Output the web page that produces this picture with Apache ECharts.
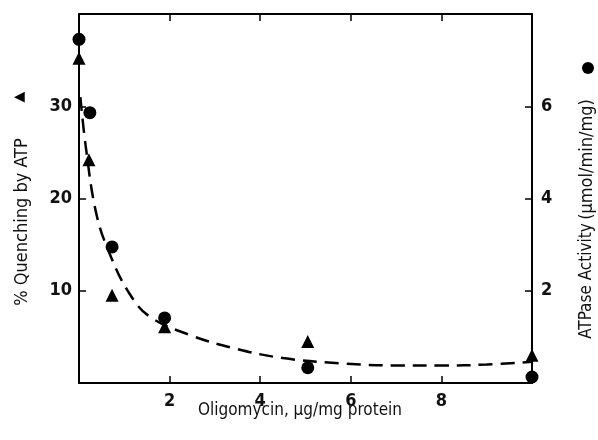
<!DOCTYPE html>
<html>
<head>
<meta charset="utf-8">
<script src="https://cdn.jsdelivr.net/npm/echarts@6/dist/echarts.min.js"></script>
<style>
html,body{margin:0;padding:0;background:#fff;}
#c{width:598px;height:440px;}
</style>
</head>
<body>
<div id="c"></div>
<script>
// Data
var xTicks = [0, 2, 4, 6, 8, 10];
var leftTicks = [0, 10, 20, 30, 40];
var rightTicks = [0, 2, 4, 6, 8];

var triX = [0, 0.22, 0.73, 1.89, 5.05, 10];
var quenching = [35.2, 24.2, 9.5, 6.1, 4.5, 3.0];

var circX = [0, 0.24, 0.73, 1.89, 5.05, 10];
var atpase = [7.45, 5.86, 2.95, 1.41, 0.33, 0.13];

var curveX = [0.03, 0.15, 0.38, 0.67, 1.1, 1.56, 2.45, 3.4, 4.5, 5.9, 7, 8, 9, 10];
var curveY = [31, 25.6, 18.4, 14.1, 9.8, 7.2, 5.2, 3.8, 2.7, 2.1, 1.9, 1.9, 2.0, 2.3];

var FONT = "'Liberation Sans Narrow','DejaVu Sans Condensed','Roboto Condensed',sans-serif";

function zip(a, b) { return a.map(function (v, i) { return [v, b[i]]; }); }

var chart = echarts.init(document.getElementById('c'), null, {renderer: 'canvas'});

var axisLine = {show: true, onZero: false, lineStyle: {color: '#000', width: 2}};
var axisTick = {show: true, inside: true, length: 7, lineStyle: {color: '#000', width: 1.5}};

chart.setOption({
  animation: false,
  backgroundColor: '#fff',
  grid: {left: 79, right: 66, top: 14, bottom: 57},
  xAxis: [{
    type: 'value', min: xTicks[0], max: xTicks[xTicks.length - 1], interval: 2,
    position: 'bottom',
    axisLine: axisLine, axisTick: axisTick, splitLine: {show: false},
    axisLabel: {
      margin: 9, color: '#111', fontSize: 18, fontWeight: 'bold', fontFamily: FONT,
      formatter: function (v) { return (v === 0 || v === 10) ? '' : String(v); }
    }
  }, {
    type: 'value', min: xTicks[0], max: xTicks[xTicks.length - 1], interval: 2,
    position: 'top',
    axisLine: axisLine, axisTick: axisTick, splitLine: {show: false},
    axisLabel: {show: false}
  }],
  yAxis: [{
    type: 'value', min: leftTicks[0], max: leftTicks[leftTicks.length - 1], interval: 10,
    position: 'left',
    axisLine: axisLine, axisTick: axisTick, splitLine: {show: false},
    axisLabel: {
      margin: 7, color: '#111', fontSize: 18, fontWeight: 'bold', fontFamily: FONT,
      formatter: function (v) { return (v === 0 || v === 40) ? '' : String(v); }
    }
  }, {
    type: 'value', min: rightTicks[0], max: rightTicks[rightTicks.length - 1], interval: 2,
    position: 'right',
    axisLine: axisLine, axisTick: axisTick, splitLine: {show: false},
    axisLabel: {
      margin: 9, color: '#111', fontSize: 18, fontWeight: 'bold', fontFamily: FONT,
      formatter: function (v) { return (v === 0 || v === 8) ? '' : String(v); }
    }
  }],
  series: [{
    type: 'line', xAxisIndex: 0, yAxisIndex: 0,
    data: zip(curveX, curveY), smooth: 0.4, showSymbol: false, symbol: 'none',
    lineStyle: {color: '#000', width: 2.5, type: [14, 8], opacity: 1}, clip: false, z: 2
  }, {
    type: 'scatter', xAxisIndex: 0, yAxisIndex: 0,
    data: zip(triX, quenching), symbol: 'triangle', symbolSize: 13,
    itemStyle: {color: '#000', opacity: 1}, clip: false, z: 3
  }, {
    type: 'scatter', xAxisIndex: 0, yAxisIndex: 1,
    data: zip(circX, atpase), symbol: 'circle', symbolSize: 13,
    itemStyle: {color: '#000', opacity: 1}, clip: false, z: 3
  }],
  graphic: [{
    type: 'text', x: 300, y: 411,
    style: {text: 'Oligomycin, \u03bcg/mg protein', fill: '#111', font: '17px ' + FONT, align: 'center', verticalAlign: 'middle'}
  }, {
    type: 'text', x: 22, y: 222, rotation: Math.PI / 2,
    style: {text: '% Quenching by ATP', fill: '#111', font: '18px ' + FONT, align: 'center', verticalAlign: 'middle'}
  }, {
    type: 'text', x: 19, y: 97, rotation: Math.PI / 2,
    style: {text: '\u25b2', fill: '#000', font: '14px DejaVu Sans', align: 'center', verticalAlign: 'middle'}
  }, {
    type: 'text', x: 587, y: 219, rotation: Math.PI / 2,
    style: {
      text: '{a|ATPase Activity} {b|(\u03bcmol/min/mg)}', align: 'center', verticalAlign: 'middle',
      rich: {
        a: {fill: '#111', font: '17px ' + FONT},
        b: {fill: '#111', font: '18px ' + FONT}
      }
    }
  }, {
    type: 'circle', shape: {cx: 588, cy: 68, r: 6}, style: {fill: '#000'}
  }]
});
</script>
</body>
</html>
